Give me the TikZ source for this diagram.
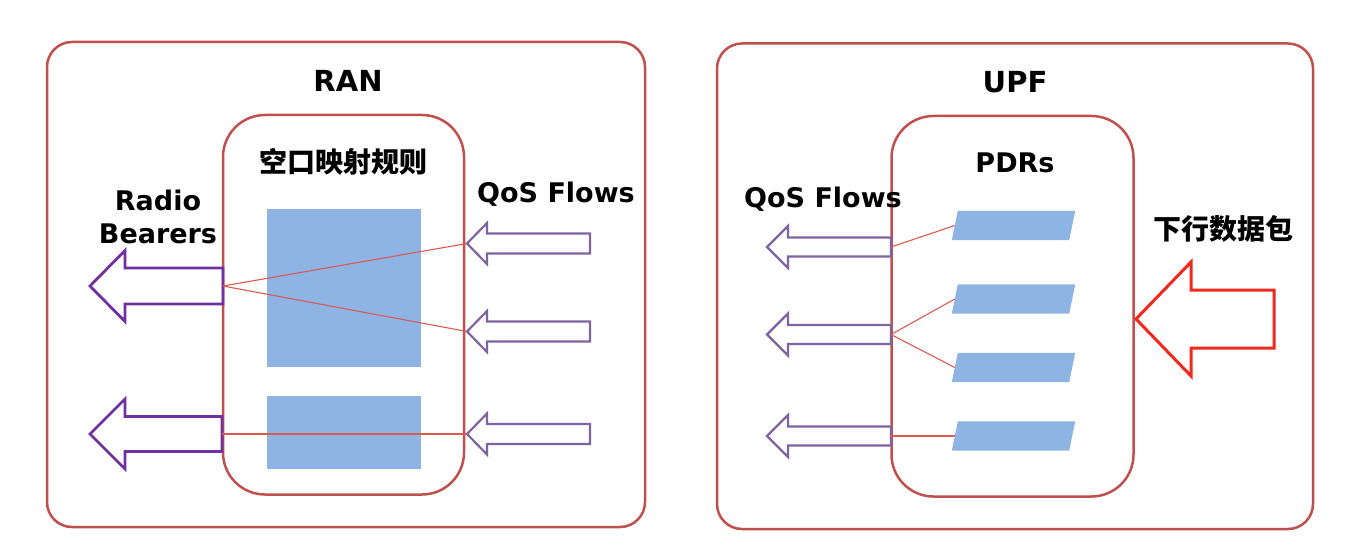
\documentclass[tikz,border=0pt]{standalone}
\usepackage{fontspec}
\setmainfont{DejaVu Sans}
\newfontfamily\cjk{Noto Sans CJK SC}
\definecolor{boxred}{RGB}{192,80,77}
\definecolor{ruleblue}{RGB}{141,180,226}
\definecolor{rbpurple}{RGB}{112,48,160}
\definecolor{qospurple}{RGB}{128,100,162}
\definecolor{mapred}{RGB}{218,90,84}
\definecolor{dlred}{RGB}{240,40,30}

% hollow block arrow pointing left: [style]{tip x}{y}{head x}{end x}{half head}{half shaft}
\newcommand{\blockarrow}[7][]{%
  \draw[#1] (#2,#3) -- (#4,#3-#6) -- (#4,#3-#7) -- (#5,#3-#7)
    -- (#5,#3+#7) -- (#4,#3+#7) -- (#4,#3+#6) -- cycle;}

\begin{document}
\begin{tikzpicture}[x=1pt, y=-1pt,
                    rbarrow/.style={draw=rbpurple, line width=2.8pt},
                    qosarrow/.style={draw=qospurple, line width=2.2pt},
                    dlarrow/.style={draw=dlred, line width=3pt},
                    mapline/.style={draw=mapred, line width=1.1pt}]
    \tikzstyle{outerbox}=[draw=boxred, line width=2.5pt, rounded corners=25pt, inner sep=0pt]
    \tikzstyle{innerbox}=[outerbox, rounded corners=42pt]
    \tikzstyle{rulebox}=[fill=ruleblue, inner sep=0pt]
    \tikzstyle{pdr}=[inner sep=0pt, minimum width=117pt, minimum height=29pt]
    \tikzstyle{boxtitle}=[font=\fontsize{29}{34}\selectfont\bfseries]
    \tikzstyle{flowtext}=[font=\fontsize{27}{33.6}\selectfont\bfseries, align=center]
    \tikzstyle{cjktext}=[font=\fontsize{28}{34}\selectfont\cjk\bfseries]

    \fill[white] (0,0) rectangle (1367,545);

    % RAN side
    \node[outerbox, minimum width=598pt, minimum height=485pt] (ran) at (346,284.5) {};
    \node[innerbox, minimum width=241pt, minimum height=379.5pt] (ranmap) at (343.5,304.75) {};
    \node[rulebox, minimum width=154pt, minimum height=157.5pt] (rule1) at (343.5,288.25) {};
    \node[rulebox, minimum width=154pt, minimum height=73.5pt] (rule2) at (343.5,432.25) {};
    \node[boxtitle] (rantitle) at (348,81) {RAN};
    \node[cjktext] (maptitle) at (343,162) {空口映射规则};
    \node[flowtext] (bearers) at (158,217) {Radio\\Bearers};
    \node[flowtext] (qosin) at (556,194) {QoS Flows};

    \blockarrow[rbarrow]{90}{286}{125}{223}{35.5}{18}
    \blockarrow[rbarrow]{90}{434}{125}{222}{35}{17.5}
    \coordinate (rb1) at (223,286);
    \coordinate (rb2) at (222,434);
    \foreach \y [count=\i] in {243.5,331.5,434} {
        \blockarrow[qosarrow]{467}{\y}{487}{590}{20.5}{10}
        \coordinate (qin\i) at (467,\y);
    }
    \draw[mapline] (rb1) -- (qin1);
    \draw[mapline] (rb1) -- (qin2);
    \draw[mapline] (rb2) -- (qin3);

    % UPF side
    \node[outerbox, minimum width=596pt, minimum height=485.5pt] (upf) at (1015,286.25) {};
    \node[innerbox, minimum width=242pt, minimum height=380.5pt] (upfpdr) at (1012.5,306.25) {};
    \node[boxtitle] (upftitle) at (1015,82) {UPF};
    \node[flowtext] (pdrtitle) at (1015,163) {PDRs};
    \node[flowtext] (qosout) at (823,199) {QoS Flows};
    \node[cjktext] (dltitle) at (1223,229) {下行数据包};

    \foreach \y [count=\i] in {225.5,299,367.5,436} {
        \node[pdr] (pdr\i) at (1013.5,\y) {};
        \fill[ruleblue] ([xshift=3pt]pdr\i.north west) -- ([xshift=3pt]pdr\i.north east)
            -- ([xshift=-3pt]pdr\i.south east) -- ([xshift=-3pt]pdr\i.south west) -- cycle;
    }
    \foreach \y [count=\i] in {247,334.5,436} {
        \blockarrow[qosarrow]{767}{\y}{788}{891}{21}{9.5}
        \coordinate (qout\i) at (891,\y);
    }
    \blockarrow[dlarrow]{1136}{319}{1191}{1274}{57}{29}

    \draw[mapline] (qout1) -- (pdr1.west);
    \draw[mapline] (qout2) -- (pdr2.west);
    \draw[mapline] (qout2) -- (pdr3.west);
    \draw[mapline] (qout3) -- (pdr4.west);
\end{tikzpicture}
\end{document}
